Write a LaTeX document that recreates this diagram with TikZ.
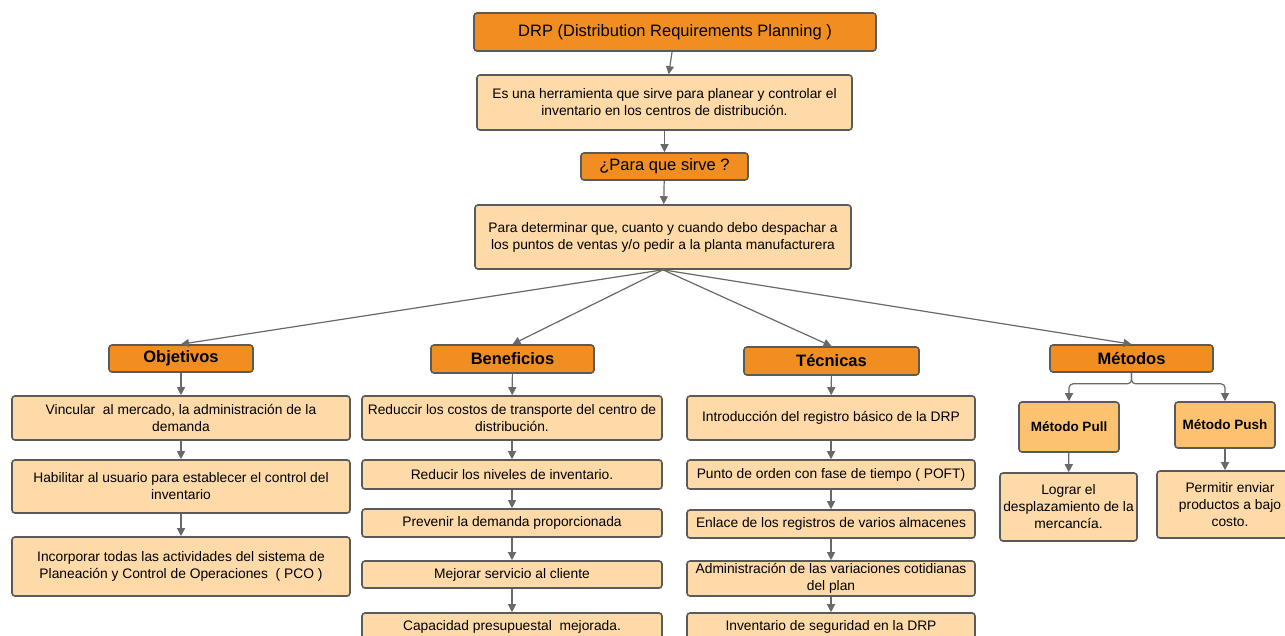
\documentclass[tikz,border=0pt]{standalone}
\usepackage{fontspec}
\setmainfont{Liberation Sans}
\usetikzlibrary{arrows.meta,calc}

\definecolor{hdrfill}{RGB}{240,142,34}
\definecolor{boxfill}{RGB}{254,218,168}
\definecolor{subfill}{RGB}{253,194,112}
\definecolor{edge}{RGB}{90,90,90}
\definecolor{wire}{RGB}{105,105,105}

\tikzset{
  base/.style={draw=edge, line width=1.6pt, rounded corners=3pt, align=center,
    inner sep=0pt, text=black},
  hdr/.style={base, fill=hdrfill},
  box/.style={base, fill=boxfill, font=\fontsize{13.8}{17}\selectfont},
  cat/.style={hdr, font=\fontsize{16.5}{19}\selectfont\bfseries},
  sub/.style={base, fill=subfill, font=\fontsize{13.5}{16}\selectfont\bfseries},
  arr/.style={draw=wire, line width=1.2pt, -{Triangle[length=8pt,width=8pt]}}
}

\begin{document}
\begin{tikzpicture}[x=1pt,y=-1pt]
\useasboundingbox (0,0) rectangle (1285,635);
\clip (0,0) rectangle (1285,635);
\fill[white] (0,0) rectangle (1285,635);

% top chain
\node[hdr, minimum width=402pt, minimum height=38pt, font=\fontsize{16.5}{19}\selectfont]
  (drp) at (675,32) {DRP (Distribution Requirements Planning )};
\node[box, minimum width=375pt, minimum height=55pt]
  (def) at (664.5,102.5) {Es una herramienta que sirve para planear y controlar el\\inventario en los centros de distribución.};
\node[hdr, minimum width=167pt, minimum height=27pt, font=\fontsize{16.5}{19}\selectfont]
  (para) at (664.5,166.5) {¿Para que sirve ?};
\node[box, minimum width=376pt, minimum height=64pt]
  (det) at (663,237) {Para determinar que, cuanto y cuando debo despachar a\\los puntos de ventas y/o pedir a la planta manufacturera};

% categories
\node[cat, minimum width=144pt, minimum height=27pt] (obj) at (181,358.5) {Objetivos};
\node[cat, minimum width=163pt, minimum height=28pt] (ben) at (512.5,359) {Beneficios};
\node[cat, minimum width=175pt, minimum height=28pt] (tec) at (831.5,361) {Técnicas};
\node[cat, minimum width=163pt, minimum height=27pt] (met) at (1131.5,358.5) {Métodos};

% Objetivos
\node[box, minimum width=338pt, minimum height=44pt] (o1) at (181,418)
  {Vincular\ \ al mercado, la administración de la\\demanda};
\node[box, minimum width=338pt, minimum height=53pt] (o2) at (181,486.5)
  {Habilitar al usuario para establecer el control del\\inventario};
\node[box, minimum width=338pt, minimum height=59pt] (o3) at (181,566.5)
  {Incorporar todas las actividades del sistema de\\Planeación y Control de Operaciones\ \ ( PCO )};

% Beneficios
\node[box, minimum width=300pt, minimum height=44pt] (b1) at (512,418)
  {Reduccir los costos de transporte del centro de\\distribución.};
\node[box, minimum width=300pt, minimum height=29pt] (b2) at (512,474.5)
  {Reducir los niveles de inventario.};
\node[box, minimum width=300pt, minimum height=28pt] (b3) at (512,523)
  {Prevenir la demanda proporcionada};
\node[box, minimum width=300pt, minimum height=27pt] (b4) at (512,574.5)
  {Mejorar servicio al cliente};
\node[box, minimum width=300pt, minimum height=28pt] (b5) at (512,627)
  {Capacidad presupuestal\ \ mejorada.};

% Técnicas
\node[box, minimum width=288pt, minimum height=44pt] (t1) at (831,418)
  {Introducción del registro básico de la DRP};
\node[box, minimum width=288pt, minimum height=29pt] (t2) at (831,474.5)
  {Punto de orden con fase de tiempo ( POFT)};
\node[box, minimum width=288pt, minimum height=28pt] (t3) at (831,524)
  {Enlace de los registros de varios almacenes};
\node[box, minimum width=288pt, minimum height=35pt] (t4) at (831,578.5)
  {\raisebox{-3pt}{\begin{tabular}{@{}c@{}}Administración de las variaciones cotidianas\\del plan\end{tabular}}};
\node[box, minimum width=288pt, minimum height=28pt] (t5) at (831,627)
  {Inventario de seguridad en la DRP};

% Métodos
\node[sub, minimum width=100pt, minimum height=50pt] (pull) at (1069,427) {Método Pull};
\node[sub, minimum width=100pt, minimum height=46pt] (push) at (1225,425) {Método Push};
\node[box, minimum width=137pt, minimum height=68pt] (lg) at (1068.5,507)
  {Lograr el\\desplazamiento de la\\mercancía.};
\node[box, minimum width=146pt, minimum height=67pt] (pm) at (1230,504.5)
  {Permitir enviar\\productos a bajo\\costo.};

% connectors
\draw[arr] (drp) -- (def);
\draw[arr] (def) -- (para);
\draw[arr] (para) -- (det);
\draw[arr] (det.south) -- (obj.north);
\draw[arr] (det.south) -- (ben.north);
\draw[arr] (det.south) -- (tec.north);
\draw[arr] (det.south) -- (met.north);

\draw[arr] (obj) -- (o1);
\draw[arr] (o1) -- (o2);
\draw[arr] (o2) -- (o3);

\draw[arr] (ben) -- (b1);
\draw[arr] (b1) -- (b2);
\draw[arr] (b2) -- (b3);
\draw[arr] (b3) -- (b4);
\draw[arr] (b4) -- (b5);

\draw[arr] (tec) -- (t1);
\draw[arr] (t1) -- (t2);
\draw[arr] (t2) -- (t3);
\draw[arr] (t3) -- (t4);
\draw[arr] (t4) -- (t5);

% split branch under Métodos
\coordinate (split) at ($(met.south)+(0,11)$);
\draw[arr, rounded corners=4pt] (met.south) -- (split) -| (pull.north);
\draw[arr, rounded corners=4pt] (met.south) -- (split) -| (push.north);
\draw[arr] (pull) -- (lg);
\draw[arr] (push) -- (pm.north -| push);
\end{tikzpicture}
\end{document}
